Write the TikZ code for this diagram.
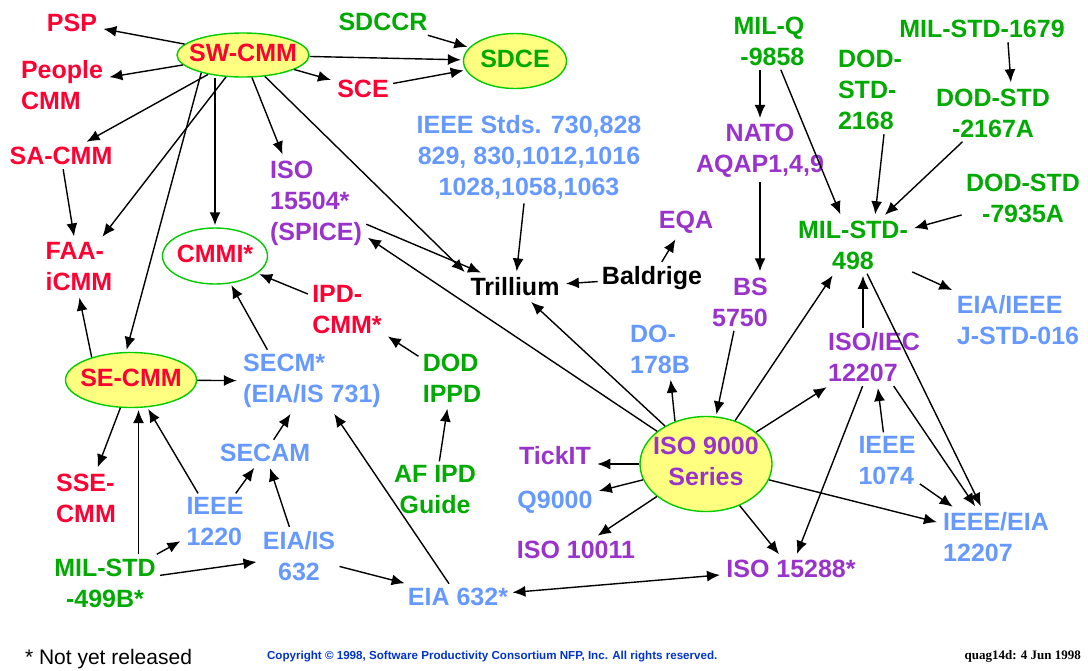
\documentclass[tikz,border=0pt]{standalone}
\usepackage{fontspec}
\setmainfont{Liberation Sans}
\newfontfamily\stampfont{Liberation Serif}
\usetikzlibrary{shapes.geometric}
\usetikzlibrary{arrows.meta}
\definecolor{cmmred}{RGB}{255,0,51}
\definecolor{stdgreen}{RGB}{0,170,0}
\definecolor{ieeeblue}{RGB}{102,153,255}
\definecolor{isopurple}{RGB}{153,51,204}
\definecolor{ovalyellow}{RGB}{255,255,128}
\definecolor{ovalgreen}{RGB}{0,204,0}
\definecolor{noteblue}{RGB}{0,51,204}
\newcommand{\ovaltext}[1]{\makebox[0pt]{\begin{tabular}{@{}c@{}}#1\end{tabular}}}
\tikzset{
fw name/.style={font=\fontsize{12.5}{15.5}\selectfont\bfseries, inner sep=2pt},
red name/.style={fw name, text=cmmred},
green name/.style={fw name, text=stdgreen},
blue name/.style={fw name, text=ieeeblue},
purple name/.style={fw name, text=isopurple},
black name/.style={fw name, text=black},
%
yellow oval/.style={fw name, ellipse, draw=ovalgreen, line width=0.7pt, fill=ovalyellow, inner sep=0pt},
white oval/.style={yellow oval, fill=white},
%
link/.style={line width=0.7pt, -{Latex[length=6.5pt,width=5.5pt]}, shorten >=1pt},
both link/.style={link, {Latex[length=6.5pt,width=5.5pt]}-{Latex[length=6.5pt,width=5.5pt]}},
}

\begin{document}
\begin{tikzpicture}[x=0.5pt,y=-0.5pt]
    \useasboundingbox (0,0) rectangle (1088,670);
    % ovals
    \node[yellow oval, minimum width=66pt, minimum height=22pt, text=cmmred] (swcmm) at (243,55) {\ovaltext{SW-CMM}};
    \node[yellow oval, minimum width=51.5pt, minimum height=27.5pt, text=stdgreen] (sdce) at (515,61) {\ovaltext{SDCE}};
    \node[white oval, minimum width=52.5pt, minimum height=28pt, text=cmmred] (cmmi) at (215,256) {\ovaltext{CMMI*}};
    \node[yellow oval, minimum width=65.5pt, minimum height=27.5pt, text=cmmred] (secmm) at (131,380) {\ovaltext{SE-CMM}};
    \node[yellow oval, minimum width=66pt, minimum height=47.5pt, text=isopurple] (iso9000) at (706,464) {\ovaltext{ISO 9000\\Series}};
    % red
    \node[red name] (psp) at (72,23) {PSP};
    \node[red name, align=left] (people) at (62,85) {People\\CMM};
    \node[red name] (sacmm) at (61,156) {SA-CMM};
    \node[red name, align=left] (faa) at (79,267) {FAA-\\iCMM};
    \node[red name] (sce) at (363,89) {SCE};
    \node[red name, align=left] (ipdcmm) at (347,310) {IPD-\\CMM*};
    \node[red name, align=left] (ssecmm) at (86,498) {SSE-\\CMM};
    % green
    \node[green name] (sdccr) at (383,22) {SDCCR};
    \node[green name, align=right] (milq) at (769,41) {MIL-Q\\-9858};
    \node[green name] (mil1679) at (982,29) {MIL-STD-1679};
    \node[green name, align=left] (dod2168) at (870,90) {DOD-\\STD-\\2168};
    \node[green name, align=center] (dod2167) at (993,113) {DOD-STD\\-2167A};
    \node[green name, align=center] (dod7935) at (1023,198) {DOD-STD\\-7935A};
    \node[green name, align=center] (mil498) at (853,245) {MIL-STD-\\498};
    \node[green name, align=left] (dodippd) at (452,378) {DOD\\IPPD};
    \node[green name, align=center] (afipd) at (435,490) {AF IPD\\Guide};
    \node[green name, align=center] (mil499b) at (105,583) {MIL-STD\\-499B*};
    % blue
    \node[blue name, align=center] (ieeestds) at (529,157) {IEEE Stds. 730,828\\829, 830,1012,1016\\1028,1058,1063};
    \node[blue name, align=left] (secm) at (312,381) {SECM*\\(EIA/IS 731)};
    \node[blue name] (secam) at (265,453) {SECAM};
    \node[blue name, align=left] (ieee1220) at (215,522) {IEEE\\1220};
    \node[blue name, align=center] (eia632is) at (299,556) {EIA/IS\\632};
    \node[blue name] (eia632) at (458,597) {EIA 632*};
    \node[blue name, align=left] (do178b) at (660,349) {DO-\\178B};
    \node[blue name] (q9000) at (555,502) {Q9000};
    \node[blue name, align=left] (ieee1074) at (887,461) {IEEE\\1074};
    \node[blue name, align=left] (ieeeeia) at (996,537) {IEEE/EIA\\12207};
    \node[blue name, align=left] (jstd) at (1018,320) {EIA/IEEE\\J-STD-016};
    % purple
    \node[purple name, align=left] (iso15504) at (316,203) {ISO\\15504*\\(SPICE)};
    \node[purple name, align=center] (nato) at (760,151) {NATO\\AQAP1,4,9};
    \node[purple name] (eqa) at (686,222) {EQA};
    \node[purple name, align=right] (bs5750) at (740,302) {BS\\5750};
    \node[purple name, align=left] (isoiec) at (874,357) {ISO/IEC\\12207};
    \node[purple name] (tickit) at (555,456) {TickIT};
    \node[purple name] (iso10011) at (576,550) {ISO 10011};
    \node[purple name] (iso15288) at (791,569) {ISO 15288*};
    % black
    \node[black name] (trillium) at (515,287) {Trillium};
    \node[black name] (baldrige) at (652,278) {Baldrige};
    % links
    \foreach \t in {psp,people,sacmm,faa,sce,sdce}
        \draw[link] (swcmm) -- (\t);
    \draw[link] (swcmm.-157) -- (secmm.100);
    \draw[link] (cmmi.north |- swcmm.south) -- (cmmi.north);
    \draw[link] (swcmm) -- (iso15504.125);
    \draw[link] (swcmm) -- (trillium.north west);
    \draw[link] (sdccr) -- (sdce);
    \draw[link] (sce) -- (sdce);
    \draw[link] (sacmm) -- (faa);
    \draw[link] (secmm.150) -- (faa.south);
    \draw[link] (secmm) -- (ssecmm);
    \draw[link] (secmm) -- (secm);
    \draw[link] (mil499b.north -| secmm.-75) -- (secmm.-75);
    \draw[link] (ieee1220) -- (secmm);
    \draw[link] (ieee1220) -- (secam);
    \draw[link] (mil499b) -- (ieee1220);
    \draw[link] (mil499b) -- (eia632is);
    \draw[link] (eia632is) -- (secam);
    \draw[link] (eia632is) -- (eia632);
    \draw[link] (secam) -- (secm);
    \draw[link] (eia632) -- (secm);
    \draw[both link] (eia632) -- (iso15288);
    \draw[link] (secm.145) -- (cmmi);
    \draw[link] (ipdcmm) -- (cmmi);
    \draw[link] (dodippd) -- (ipdcmm);
    \draw[link] (afipd) -- (dodippd);
    \draw[link] (iso15504) -- (trillium);
    \draw[link] (ieeestds) -- (trillium);
    \draw[link] (baldrige) -- (trillium);
    \draw[link] (baldrige) -- (eqa);
    \foreach \t in {trillium,iso15504,mil498,isoiec,q9000,iso10011,iso15288,ieeeeia}
        \draw[link] (iso9000) -- (\t);
    \draw[link] (iso9000.126) -- (do178b.-70);
    \draw[link] (iso9000.west) -- (iso9000.west -| tickit.east);
    \draw[link] (bs5750) -- (iso9000);
    \draw[link] (nato) -- (nato |- bs5750.north);
    \draw[link] (milq.south -| nato) -- (nato);
    \draw[link] (milq) -- (mil498);
    \draw[link] (isoiec) -- (iso15288);
    \draw[link] (isoiec) -- (ieeeeia);
    \draw[link] ([xshift=-5.5pt]isoiec.north) -- ([xshift=-5.5pt]isoiec.north |- mil498.south);
    \draw[link] (mil498) -- (ieeeeia);
    \draw[link] (mil498) -- (jstd);
    \draw[link] (ieee1074) -- (isoiec);
    \draw[link] (ieee1074) -- (ieeeeia);
    \draw[link] ([xshift=7pt]dod2168.south) -- ([xshift=11pt]mil498.north);
    \draw[link] (dod2167) -- (mil498);
    \draw[link] (dod7935) -- (mil498);
    \draw[link] ([xshift=13pt]mil1679.south) -- ([xshift=9pt]dod2167.north);
    % footer
    \node[anchor=west, font=\fontsize{10.5}{12}\selectfont] (note) at (18,659) {* Not yet released};
    \node[anchor=west, text=noteblue, font=\fontsize{5.8}{7}\selectfont\bfseries] (copy) at (260,657) {Copyright \textcopyright\ 1998, Software Productivity Consortium NFP, Inc. All rights reserved.};
    \node[anchor=east, font=\stampfont\fontsize{6.5}{8}\selectfont\bfseries] (stamp) at (1088,656) {quag14d: 4 Jun 1998};
\end{tikzpicture}
\end{document}
